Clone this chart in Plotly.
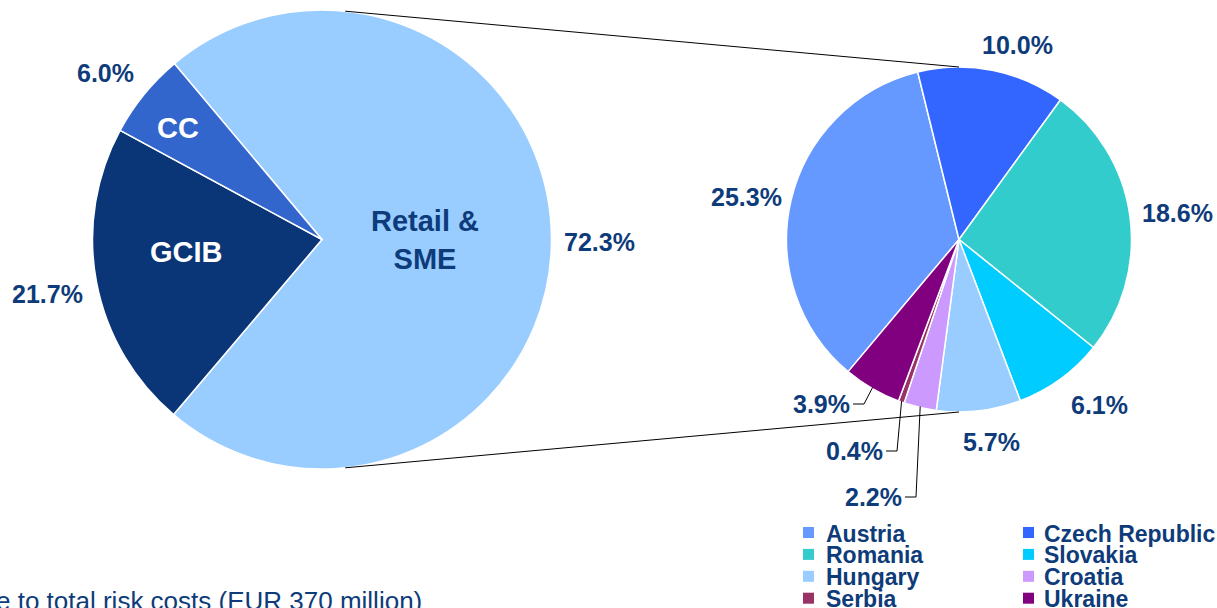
import math
import plotly.graph_objects as go

# ---------------- data ----------------
seg_labels = ["Retail &<br>SME", "GCIB", "CC"]
seg_values = [72.3, 21.7, 6.0]
seg_colors = ["#99CCFF", "#0A3677", "#3366CC"]

country_labels = ["Austria", "Czech Republic", "Romania", "Slovakia",
                  "Hungary", "Croatia", "Serbia", "Ukraine"]
country_values = [25.3, 10.0, 18.6, 6.1, 5.7, 2.2, 0.4, 3.9]
country_colors = ["#6699FF", "#3366FF", "#33CCCC", "#00CCFF",
                  "#99CCFF", "#CC99FF", "#993366", "#800080"]

caption = "e to total risk costs (EUR 370 million)"

# ---------------- geometry ----------------
W, H = 1217, 608
OFF = 0
NAVY = "#0E3B79"
FONT = "Liberation Sans, Arial, sans-serif"

L_CX, L_CY, L_R, L_ROT = 322, 239.5, 229.5, 320
R_CX, R_CY, R_R, R_ROT = 959, 239.5, 172.5, 220


def px(x):
    return (x - OFF) / W


def py(y):
    return 1 - (y - OFF) / H


def mids(values, rot):
    tot = sum(values)
    a = rot
    out = []
    for v in values:
        span = v / tot * 360
        out.append(a + span / 2)
        a += span
    return out


def polar(cx, cy, d, ang):
    r = math.radians(ang)
    return cx + d * math.sin(r), cy - d * math.cos(r)


fig = go.Figure()

fig.add_trace(go.Pie(
    labels=seg_labels, values=seg_values, sort=False, direction="clockwise",
    rotation=L_ROT, textinfo="none", hoverinfo="label+percent", showlegend=False,
    marker=dict(colors=seg_colors, line=dict(color="white", width=1.5)),
    domain=dict(x=[px(L_CX - L_R), px(L_CX + L_R)], y=[py(L_CY + L_R), py(L_CY - L_R)]),
))

fig.add_trace(go.Pie(
    labels=country_labels, values=country_values, sort=False, direction="clockwise",
    rotation=R_ROT, textinfo="none", hoverinfo="label+percent", showlegend=False,
    marker=dict(colors=country_colors, line=dict(color="white", width=1.5)),
    domain=dict(x=[px(R_CX - R_R), px(R_CX + R_R)], y=[py(R_CY + R_R), py(R_CY - R_R)]),
))

annotations = []
shapes = []


def add_text(x, y, text, size, color=NAVY, bold=True, xanchor="center", yanchor="middle"):
    annotations.append(dict(
        x=px(x), y=py(y), xref="paper", yref="paper", text=text, showarrow=False,
        xanchor=xanchor, yanchor=yanchor, align="center",
        font=dict(family=FONT, size=size, color=color, weight="bold" if bold else "normal"),
    ))


def add_line(pts, width=1):
    path = "M " + " L ".join(f"{px(x)},{py(y)}" for x, y in pts)
    shapes.append(dict(type="path", xref="paper", yref="paper", path=path,
                       line=dict(color="black", width=width)))


# --- left pie labels ---
lm = mids(seg_values, L_ROT)
inside_cfg = [(0.45, 0, 0, NAVY), (0.60, 0, -13, "white"), (0.79, -3, 3, "white")]
outside_cfg = [(1.21, 0, 2), (1.22, 1, 3), (1.19, -5, 6)]
for i, v in enumerate(seg_values):
    f, dx, dy, col = inside_cfg[i]
    x, y = polar(L_CX, L_CY, f * L_R, lm[i])
    add_text(x + dx, y + dy, seg_labels[i], 29, color=col)
    f, dx, dy = outside_cfg[i]
    x, y = polar(L_CX, L_CY, f * L_R, lm[i])
    add_text(x + dx, y + dy, f"{v:.1f}%", 25)

# --- right pie labels ---
rm = mids(country_values, R_ROT)
out_cfg = {0: (1.25, -2, 6), 1: (1.18, 19, 5), 2: (1.28, 0, 3),
           3: (1.26, 13, -10), 4: (1.19, 9, -1)}
for i, (f, dx, dy) in out_cfg.items():
    x, y = polar(R_CX, R_CY, f * R_R, rm[i])
    add_text(x + dx, y + dy, f"{country_values[i]:.1f}%", 25)

# leader-line labels: (index, text right end x, y)
leader_cfg = [(7, 852, 404), (6, 885, 451), (5, 904, 497)]
for i, tx, ty in leader_cfg:
    add_text(tx, ty, f"{country_values[i]:.1f}%", 25, xanchor="right")
    ex, ey = polar(R_CX, R_CY, R_R - 1, rm[i])
    add_line([(tx + 1, ty), (tx + 12, ty), (ex, ey)])

# --- connector lines between pies ---
top_l = polar(L_CX, L_CY, L_R, 5.8)
bot_l = polar(L_CX, L_CY, L_R, 174.2)
add_line([top_l, (R_CX, R_CY - R_R)])
add_line([bot_l, (R_CX, R_CY + R_R)])

# --- manual legend ---
col_sq = [803, 1023]
col_tx = [824, 1042]
row_y0, row_dy, sq = 532.5, 21.9, 11
for i, (lab, colr) in enumerate(zip(country_labels, country_colors)):
    c, r = i % 2, i // 2
    yc = row_y0 + r * row_dy
    shapes.append(dict(type="rect", xref="paper", yref="paper",
                       x0=px(col_sq[c]), x1=px(col_sq[c] + sq),
                       y0=py(yc + sq / 2), y1=py(yc - sq / 2),
                       fillcolor=colr, line=dict(width=0)))
    add_text(col_tx[c], yc + 1, lab, 23, xanchor="left")

# --- caption (cut off at left/bottom) ---
add_text(424, 601, caption, 26, bold=False, xanchor="right")

fig.update_layout(
    width=W, height=H, margin=dict(l=0, r=0, t=0, b=0),
    paper_bgcolor="white", plot_bgcolor="white",
    annotations=annotations, shapes=shapes, showlegend=False,
)

fig.write_html(
    "out.html",
    config={"displayModeBar": False},
    post_script="document.body.style.margin='0';document.body.style.overflow='hidden';",
)
